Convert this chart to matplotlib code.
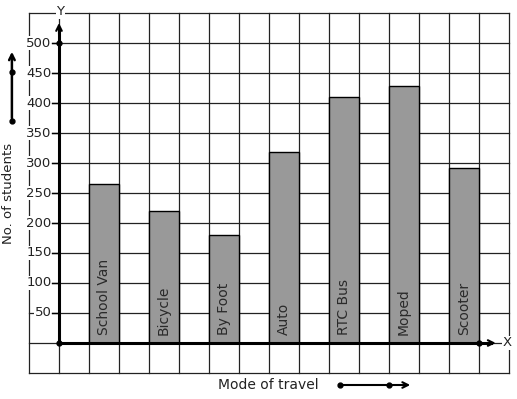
import matplotlib.pyplot as plt
import numpy as np

modes = ["School Van", "Bicycle", "By Foot", "Auto", "RTC Bus", "Moped", "Scooter"]
students = [265, 220, 180, 318, 410, 428, 291]
y_ticks = [50, 100, 150, 200, 250, 300, 350, 400, 450, 500]

fig = plt.figure(figsize=(5.17, 3.99), dpi=100)
ax = fig.add_axes([0, 0, 1, 1])
ax.set_xlim(-1 - 29 / 30, 15 + 8 / 30)
ax.set_ylim(-56 / 0.6, 343 / 0.6)
ax.axis('off')

# grid
for gx in range(-1, 16):
    ax.plot([gx, gx], [-50, 550], color='#222222', lw=0.9, zorder=1)
for gy in range(-50, 551, 50):
    ax.plot([-1, 15], [gy, gy], color='#222222', lw=0.9, zorder=1)

# bars
pos = np.arange(len(modes)) * 2 + 1.5
ax.bar(pos, students, width=1, color='#999999', edgecolor='black', lw=1, zorder=2)
for p, name in zip(pos, modes):
    ax.text(p, 14, name, rotation=90, ha='center', va='bottom', fontsize=10,
            color='#2a2a2a', zorder=3)

# axes
ax.plot([0, 0], [0, 525], color='black', lw=2.2, zorder=4)
ax.plot([0, 14.4], [0, 0], color='black', lw=2.2, zorder=4)
ax.annotate('', xy=(0, 538), xytext=(0, 510),
            arrowprops=dict(arrowstyle='->', lw=1.5, color='black'), zorder=5)
ax.annotate('', xy=(14.65, 0), xytext=(14.2, 0),
            arrowprops=dict(arrowstyle='->', lw=1.5, color='black'), zorder=5)
ax.plot([0, 0, 14], [0, 500, 0], 'o', color='black', ms=3.5, zorder=5)
ax.text(0.05, 552, 'Y', ha='center', va='center', fontsize=9.5, color='#222222',
        bbox=dict(facecolor='white', edgecolor='none', pad=0.5), zorder=5)
ax.text(14.95, 0, 'X', ha='center', va='center', fontsize=9.5, color='#222222',
        bbox=dict(facecolor='white', edgecolor='none', pad=0.5), zorder=5)

# y ticks
for t in y_ticks:
    ax.plot([-0.25, 0], [t, t], color='black', lw=1, zorder=4)
    ax.text(-0.25, t, str(t), ha='right', va='center', fontsize=9.5, color='#222222',
            bbox=dict(facecolor='white', edgecolor='none', pad=0.3), zorder=3)

# axis labels
ax.text(-1.7, 250, 'No. of students', rotation=90, ha='center', va='center',
        fontsize=9.5, color='#222222')
ax.text(6.98, -70, 'Mode of travel', ha='center', va='center', fontsize=10,
        color='#222222')

# decorative arrows
ax.annotate('', xy=(-1.57, 490), xytext=(-1.57, 370),
            arrowprops=dict(arrowstyle='->', lw=1.8, color='black'))
ax.plot([-1.57, -1.57], [370, 452], 'o', color='black', ms=3.5)
ax.annotate('', xy=(11.8, -70), xytext=(9.37, -70),
            arrowprops=dict(arrowstyle='->', lw=1.5, color='black'))
ax.plot([9.37, 11.0], [-70, -70], 'o', color='black', ms=3.5)

fig.savefig('out.png', dpi=100)
